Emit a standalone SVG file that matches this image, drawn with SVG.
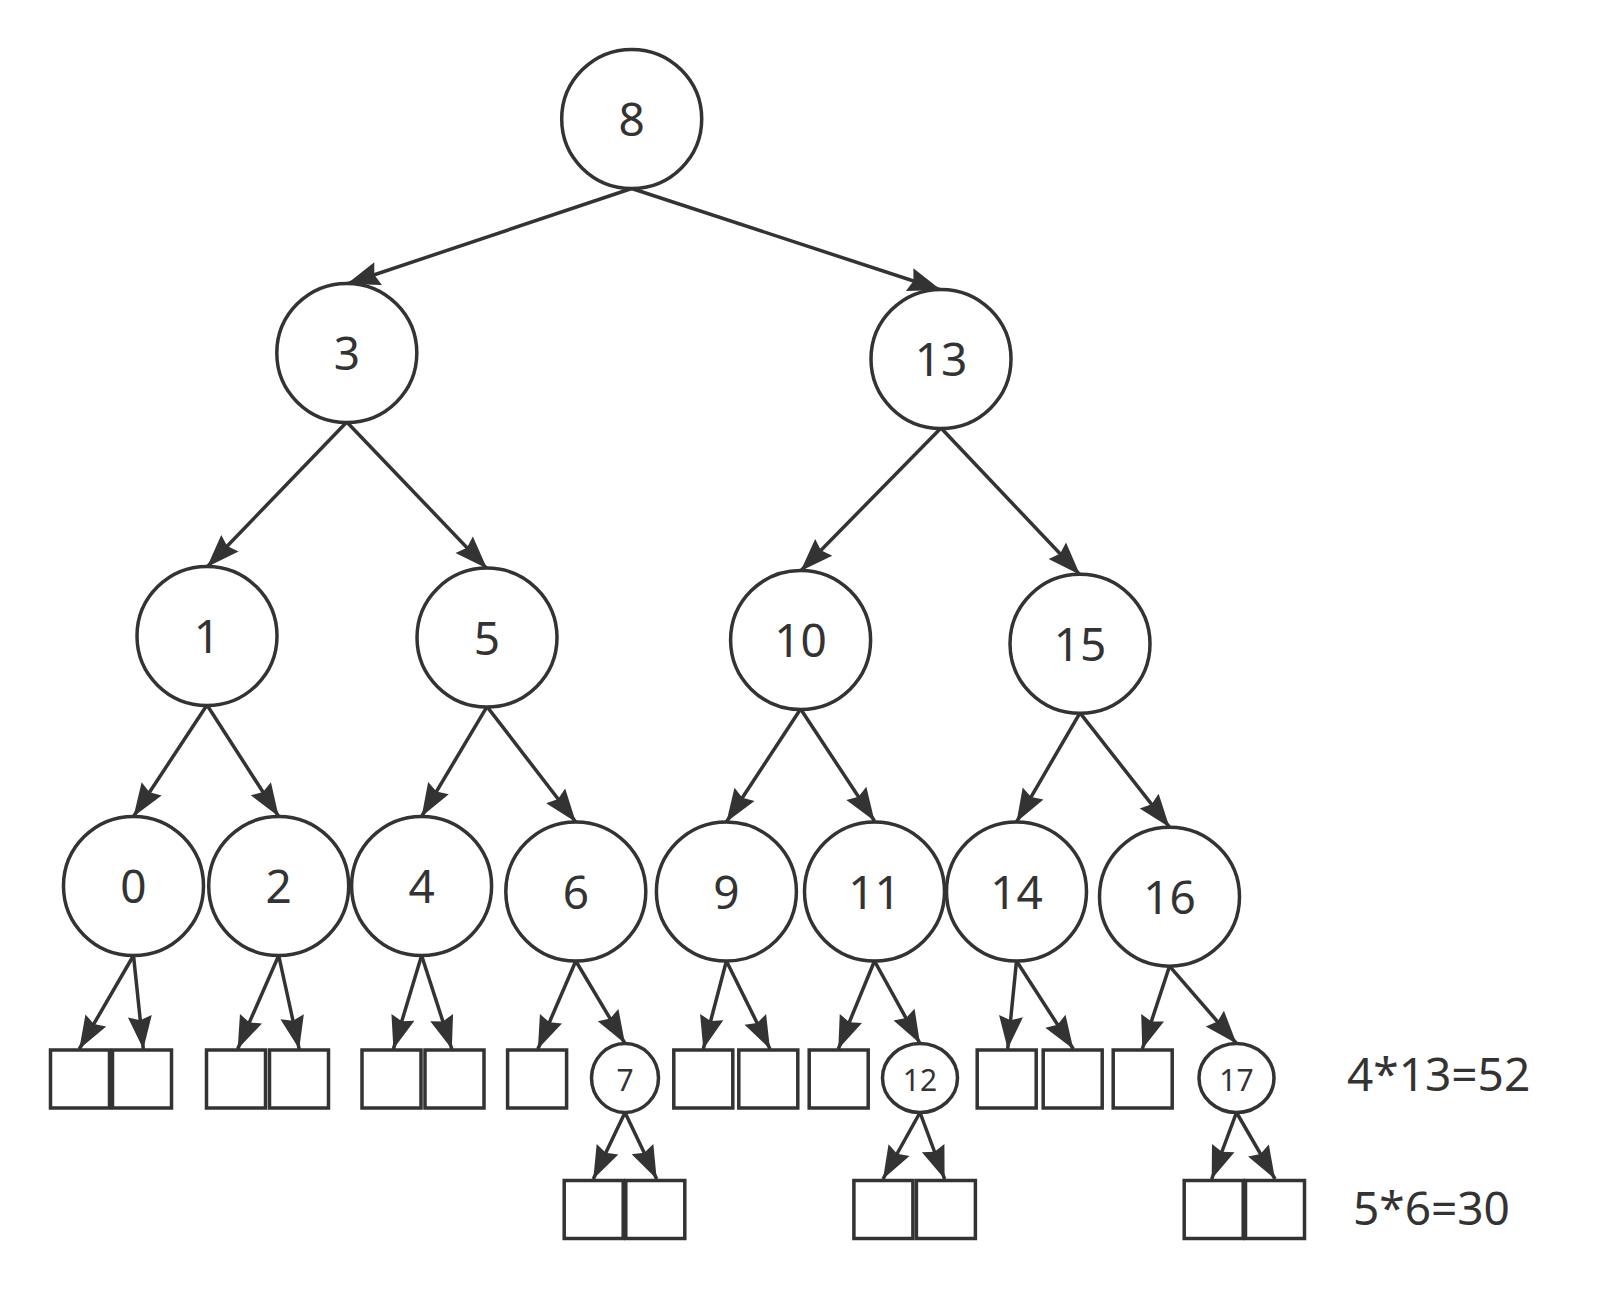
<svg xmlns="http://www.w3.org/2000/svg" width="1610" height="1299" viewBox="0 0 1610 1299">
<style>
.n{fill:#fff;stroke:#333;stroke-width:3.5}
.b{fill:#fff;stroke:#333;stroke-width:3.5}
.t{font-family:"Noto Sans","Open Sans","Liberation Sans",sans-serif;fill:#333;text-anchor:middle}
.big{font-size:46px}
.sm{font-size:30px}
.lbl{font-family:"Noto Sans","Open Sans","Liberation Sans",sans-serif;fill:#333;font-size:46px}
.e line{stroke:#333;stroke-width:3.5;marker-end:url(#ah)}
</style>
<defs>
<marker id="ah" markerUnits="userSpaceOnUse" viewBox="0 0 34 24" markerWidth="34" markerHeight="24" refX="33" refY="12" orient="auto" overflow="visible">
<path d="M0,0 L33,12 L0,24 L4,12 Z" fill="#333"/>
</marker>
</defs>
<rect width="1610" height="1299" fill="#fff"/>
<g id="connectors" class="e">
<line x1="631.7" y1="188.5" x2="346.8" y2="284"/>
<line x1="631.7" y1="188.5" x2="941" y2="290"/>
<line x1="346.8" y1="422" x2="207" y2="567"/>
<line x1="346.8" y1="422" x2="487" y2="568.6"/>
<line x1="941" y1="428" x2="800.6" y2="571"/>
<line x1="941" y1="428" x2="1080" y2="574.8"/>
<line x1="207" y1="705" x2="133.5" y2="816.5"/>
<line x1="207" y1="705" x2="278.7" y2="816.5"/>
<line x1="487" y1="706.6" x2="421.6" y2="816.5"/>
<line x1="487" y1="706.6" x2="575.8" y2="822"/>
<line x1="800.6" y1="709" x2="726.4" y2="822"/>
<line x1="800.6" y1="709" x2="874.5" y2="821"/>
<line x1="1080" y1="712.8" x2="1016.5" y2="822"/>
<line x1="1080" y1="712.8" x2="1169.5" y2="827.2"/>
<line x1="133.5" y1="955.5" x2="79.3" y2="1049"/>
<line x1="133.5" y1="955.5" x2="143.3" y2="1049"/>
<line x1="278.7" y1="955.5" x2="237.7" y2="1049"/>
<line x1="278.7" y1="955.5" x2="299.2" y2="1049"/>
<line x1="421.6" y1="955.5" x2="393.4" y2="1049"/>
<line x1="421.6" y1="955.5" x2="451.8" y2="1049"/>
<line x1="575.8" y1="961" x2="537.9" y2="1049"/>
<line x1="575.8" y1="961" x2="625" y2="1043.5"/>
<line x1="726.4" y1="961" x2="703.3" y2="1049"/>
<line x1="726.4" y1="961" x2="770" y2="1049"/>
<line x1="874.5" y1="961" x2="838.3" y2="1049"/>
<line x1="874.5" y1="961" x2="920" y2="1043.5"/>
<line x1="1016.5" y1="961" x2="1007.7" y2="1049"/>
<line x1="1016.5" y1="961" x2="1073.3" y2="1049"/>
<line x1="1169.5" y1="966.2" x2="1142.3" y2="1049"/>
<line x1="1169.5" y1="966.2" x2="1236.5" y2="1043.5"/>
<line x1="625" y1="1112.5" x2="593.3" y2="1179"/>
<line x1="625" y1="1112.5" x2="656.7" y2="1179"/>
<line x1="920" y1="1112.5" x2="883" y2="1179"/>
<line x1="920" y1="1112.5" x2="944.6" y2="1179"/>
<line x1="1236.5" y1="1112.5" x2="1211.7" y2="1179"/>
<line x1="1236.5" y1="1112.5" x2="1275" y2="1179"/>
</g>
<g id="node-8"><ellipse class="n" cx="631.7" cy="119" rx="70" ry="69.5"/><text class="t big" x="631.7" y="136">8</text></g>
<g id="node-3"><ellipse class="n" cx="346.8" cy="353" rx="70" ry="69.5"/><text class="t big" x="346.8" y="370">3</text></g>
<g id="node-13"><ellipse class="n" cx="941" cy="359" rx="70" ry="69.5"/><text class="t big" x="941" y="376">13</text></g>
<g id="node-1"><ellipse class="n" cx="207" cy="636" rx="70" ry="69.5"/><text class="t big" x="207" y="653">1</text></g>
<g id="node-5"><ellipse class="n" cx="487" cy="637.6" rx="70" ry="69.5"/><text class="t big" x="487" y="654.6">5</text></g>
<g id="node-10"><ellipse class="n" cx="800.6" cy="640" rx="70" ry="69.5"/><text class="t big" x="800.6" y="657">10</text></g>
<g id="node-15"><ellipse class="n" cx="1080" cy="643.8" rx="70" ry="69.5"/><text class="t big" x="1080" y="660.8">15</text></g>
<g id="node-0"><ellipse class="n" cx="133.5" cy="886" rx="70" ry="69.5"/><text class="t big" x="133.5" y="903">0</text></g>
<g id="node-2"><ellipse class="n" cx="278.7" cy="886" rx="70" ry="69.5"/><text class="t big" x="278.7" y="903">2</text></g>
<g id="node-4"><ellipse class="n" cx="421.6" cy="886" rx="70" ry="69.5"/><text class="t big" x="421.6" y="903">4</text></g>
<g id="node-6"><ellipse class="n" cx="575.8" cy="891.5" rx="70" ry="69.5"/><text class="t big" x="575.8" y="908.5">6</text></g>
<g id="node-9"><ellipse class="n" cx="726.4" cy="891.5" rx="70" ry="69.5"/><text class="t big" x="726.4" y="908.5">9</text></g>
<g id="node-11"><ellipse class="n" cx="874.5" cy="891.5" rx="70" ry="69.5"/><text class="t big" x="874.5" y="908.5">11</text></g>
<g id="node-14"><ellipse class="n" cx="1016.5" cy="891.5" rx="70" ry="69.5"/><text class="t big" x="1016.5" y="908.5">14</text></g>
<g id="node-16"><ellipse class="n" cx="1169.5" cy="896.7" rx="70" ry="69.5"/><text class="t big" x="1169.5" y="913.7">16</text></g>
<g id="node-7"><ellipse class="n" cx="625" cy="1078" rx="33.5" ry="34.5"/><text class="t sm" x="625" y="1091">7</text></g>
<g id="node-12"><ellipse class="n" cx="920" cy="1078" rx="37.5" ry="34.5"/><text class="t sm" x="920" y="1091">12</text></g>
<g id="node-17"><ellipse class="n" cx="1236.5" cy="1078" rx="37.5" ry="34.5"/><text class="t sm" x="1236.5" y="1091">17</text></g>
<g id="leaves-row1">
<rect class="b" x="50.5" y="1050" width="59" height="58"/>
<rect class="b" x="112.5" y="1050" width="59" height="58"/>
<rect class="b" x="206.5" y="1050" width="59" height="58"/>
<rect class="b" x="269.5" y="1050" width="59" height="58"/>
<rect class="b" x="362" y="1050" width="59" height="58"/>
<rect class="b" x="425" y="1050" width="59" height="58"/>
<rect class="b" x="507.6" y="1050" width="59" height="58"/>
<rect class="b" x="673.8" y="1050" width="59" height="58"/>
<rect class="b" x="738.8" y="1050" width="59" height="58"/>
<rect class="b" x="809.2" y="1050" width="59" height="58"/>
<rect class="b" x="977.2" y="1050" width="59" height="58"/>
<rect class="b" x="1043.2" y="1050" width="59" height="58"/>
<rect class="b" x="1113.2" y="1050" width="59" height="58"/>
</g>
<g id="leaves-row2">
<rect class="b" x="564.2" y="1180.5" width="59" height="58"/>
<rect class="b" x="625.8" y="1180.5" width="59" height="58"/>
<rect class="b" x="853.9" y="1180.5" width="59" height="58"/>
<rect class="b" x="916.4" y="1180.5" width="59" height="58"/>
<rect class="b" x="1184.2" y="1180.5" width="59" height="58"/>
<rect class="b" x="1245.5" y="1180.5" width="59" height="58"/>
</g>
<g id="labels">
<text class="lbl" x="1347" y="1091">4*13=52</text>
<text class="lbl" x="1353" y="1225">5*6=30</text>
</g>
</svg>
